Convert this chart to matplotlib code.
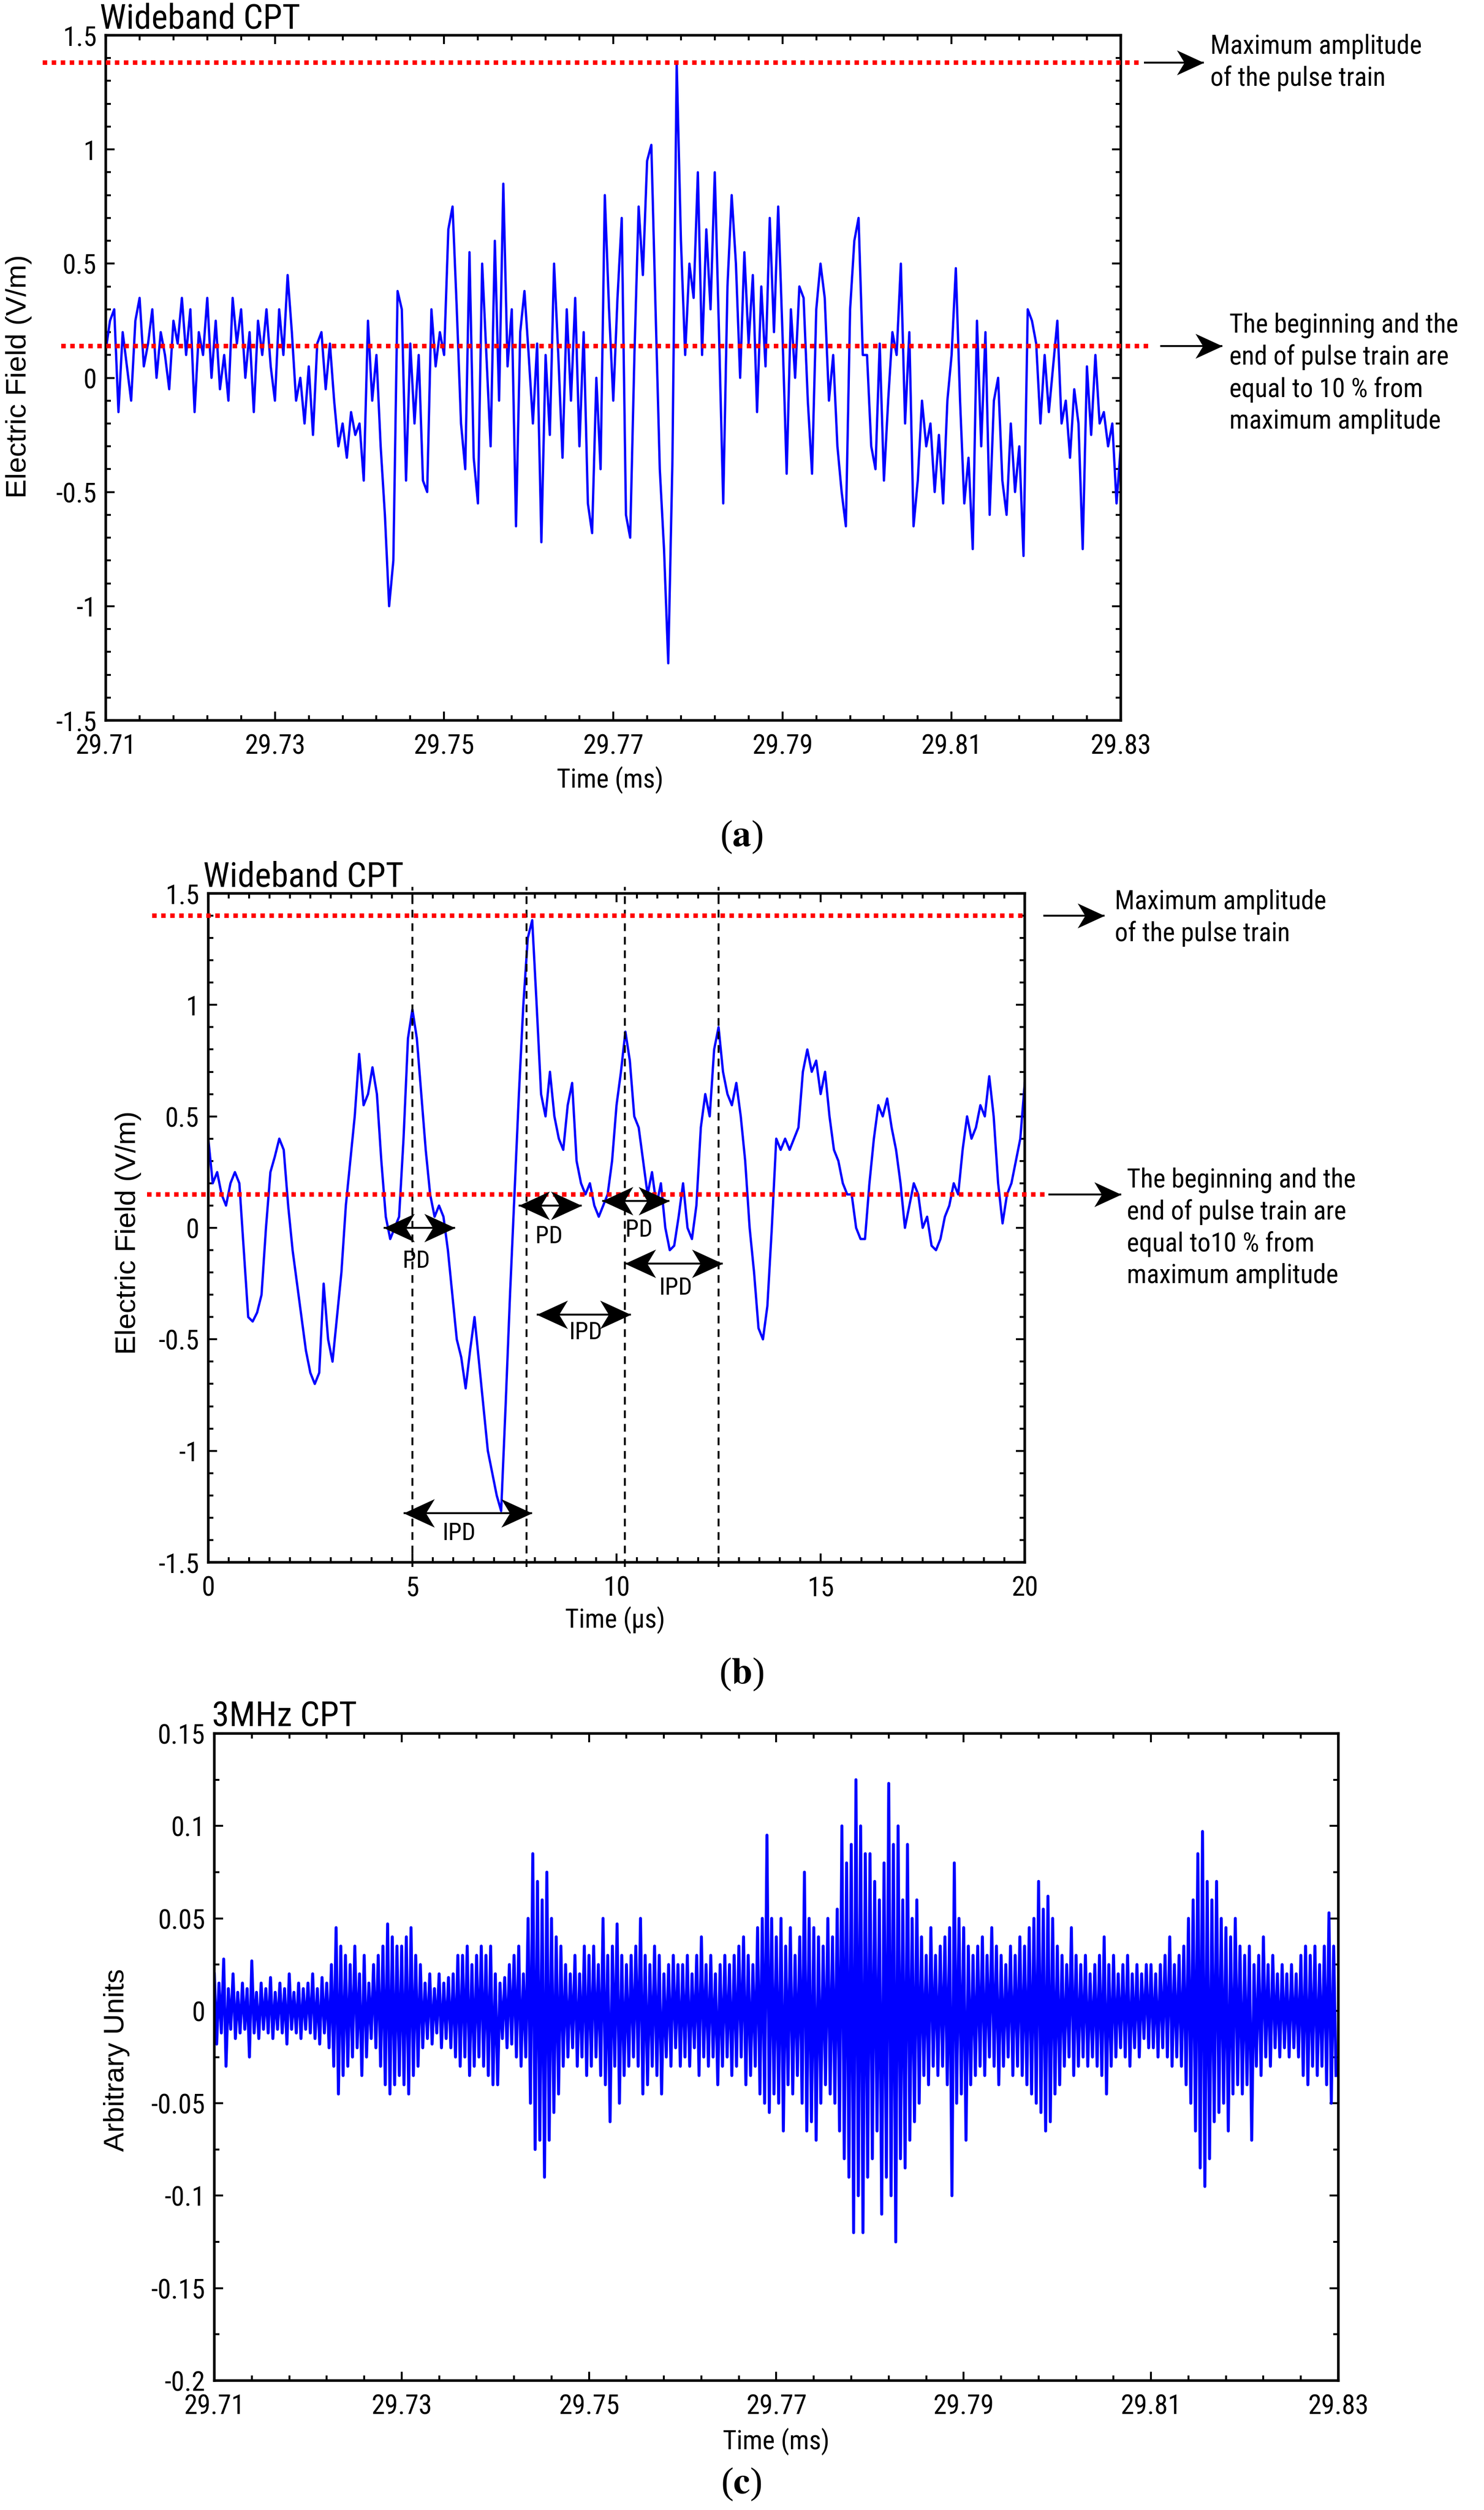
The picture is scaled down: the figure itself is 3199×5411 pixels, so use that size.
import numpy as np
import matplotlib
matplotlib.use("Agg")
import matplotlib.pyplot as plt
from matplotlib import font_manager
from matplotlib.path import Path
from matplotlib.ticker import FixedLocator, AutoMinorLocator, FuncFormatter


def first_font(names):
    for n in names:
        try:
            font_manager.findfont(n, fallback_to_default=False)
            return n
        except Exception:
            pass
    return "DejaVu Sans"


NARROW = [first_font(["Liberation Sans Narrow", "Roboto Condensed", "Liberation Sans"]), "DejaVu Sans"]
WIDE = ["Liberation Sans", "DejaVu Sans"]
SERIF = ["Liberation Serif", "DejaVu Serif"]
plt.rcParams["font.family"] = NARROW
plt.rcParams["axes.unicode_minus"] = False
plt.rcParams["mathtext.fontset"] = "stix"

# ---------- Data ----------
# (a) wideband field, 29.71-29.83 ms, one sample per 0.0005 ms
t0_a, dt_a = 29.71, 0.0005
field_a = [
    0.12, 0.25, 0.3, -0.15, 0.2, 0.05, -0.1, 0.25, 0.35, 0.05, 0.15, 0.3, 0.0, 0.2, 0.1, -0.05, 0.25, 0.15, 0.35, 0.1,
    0.3, -0.15, 0.2, 0.1, 0.35, 0.0, 0.25, -0.05, 0.1, -0.1, 0.35, 0.15, 0.3, 0.0, 0.2, -0.15, 0.25, 0.1, 0.3, 0.05,
    -0.1, 0.3, 0.1, 0.45, 0.2, -0.1, 0.0, -0.2, 0.05, -0.25, 0.15, 0.2, -0.05, 0.15, -0.1, -0.3, -0.2, -0.35, -0.15, -0.25,
    -0.2, -0.45, 0.25, -0.1, 0.1, -0.3, -0.6, -1.0, -0.8, 0.38, 0.3, -0.45, 0.15, -0.2, 0.1, -0.45, -0.5, 0.3, 0.05, 0.2,
    0.1, 0.65, 0.75, 0.3, -0.2, -0.4, 0.55, -0.35, -0.55, 0.5, 0.1, -0.3, 0.6, -0.1, 0.85, 0.05, 0.3, -0.65, 0.2, 0.38,
    0.1, -0.2, 0.15, -0.72, 0.1, -0.25, 0.5, 0.1, -0.35, 0.3, -0.1, 0.35, -0.3, 0.2, -0.55, -0.68, 0.0, -0.4, 0.8, 0.3,
    -0.1, 0.35, 0.7, -0.6, -0.7, 0.1, 0.75, 0.45, 0.95, 1.02, 0.3, -0.4, -0.75, -1.25, -0.35, 1.38, 0.6, 0.1, 0.5, 0.35,
    0.9, 0.1, 0.65, 0.3, 0.9, 0.2, -0.55, 0.4, 0.8, 0.5, 0.0, 0.55, 0.15, 0.45, -0.15, 0.4, 0.05, 0.7, 0.2, 0.75,
    0.2, -0.42, 0.3, 0.0, 0.4, 0.35, -0.1, -0.42, 0.3, 0.5, 0.35, -0.1, 0.1, -0.3, -0.5, -0.65, 0.3, 0.6, 0.7, 0.1,
    0.1, -0.3, -0.4, 0.15, -0.45, -0.1, 0.2, 0.1, 0.5, -0.2, 0.2, -0.65, -0.45, -0.1, -0.3, -0.2, -0.5, -0.25, -0.55, -0.1,
    0.1, 0.48, -0.1, -0.55, -0.35, -0.75, 0.25, -0.3, 0.2, -0.6, -0.1, 0.0, -0.45, -0.6, -0.2, -0.5, -0.3, -0.78, 0.3, 0.25,
    0.15, -0.2, 0.1, -0.15, 0.05, 0.25, -0.2, -0.1, -0.35, -0.05, -0.2, -0.75, 0.05, -0.25, 0.1, -0.2, -0.15, -0.3, -0.2, -0.55,
    -0.3,
]

# (b) wideband field zoom, 0-20 us
field_b = [
    0.4, 0.2, 0.25, 0.15, 0.1, 0.2, 0.25, 0.2, -0.1, -0.4, -0.42, -0.38, -0.3, 0.0, 0.25, 0.32, 0.4, 0.35, 0.1, -0.1,
    -0.25, -0.4, -0.55, -0.65, -0.7, -0.65, -0.25, -0.5, -0.6, -0.4, -0.2, 0.1, 0.3, 0.5, 0.78, 0.55, 0.6, 0.72, 0.6, 0.3,
    0.05, -0.05, 0.0, 0.05, 0.4, 0.85, 0.98, 0.85, 0.6, 0.35, 0.15, 0.05, 0.1, 0.05, -0.1, -0.3, -0.5, -0.58, -0.72, -0.55,
    -0.4, -0.6, -0.8, -1.0, -1.1, -1.2, -1.27, -0.8, -0.3, 0.15, 0.6, 1.0, 1.3, 1.38, 1.0, 0.6, 0.5, 0.7, 0.5, 0.4,
    0.35, 0.55, 0.65, 0.3, 0.2, 0.15, 0.2, 0.1, 0.05, 0.1, 0.15, 0.3, 0.55, 0.7, 0.88, 0.75, 0.5, 0.45, 0.3, 0.15,
    0.25, 0.1, 0.2, 0.0, -0.1, -0.08, 0.05, 0.2, 0.0, -0.05, 0.1, 0.45, 0.6, 0.5, 0.8, 0.9, 0.7, 0.6, 0.55, 0.65,
    0.5, 0.3, 0.0, -0.2, -0.45, -0.5, -0.35, 0.0, 0.4, 0.35, 0.4, 0.35, 0.4, 0.45, 0.7, 0.8, 0.7, 0.75, 0.6, 0.7,
    0.5, 0.35, 0.3, 0.2, 0.15, 0.15, 0.0, -0.05, -0.05, 0.2, 0.4, 0.55, 0.5, 0.58, 0.45, 0.35, 0.2, 0.0, 0.1, 0.2,
    0.15, 0.0, 0.05, -0.08, -0.1, -0.05, 0.05, 0.1, 0.2, 0.15, 0.35, 0.5, 0.4, 0.45, 0.55, 0.5, 0.68, 0.5, 0.2, 0.02,
    0.15, 0.2, 0.3, 0.4, 0.65,
]

# (c) 3 MHz signal: upper / lower swing per 0.0005 ms step
t0_c, dt_c = 29.71, 0.0005
upper_c = [
    0.02, 0.015, 0.028, 0.012, 0.02, 0.01, 0.015, 0.012, 0.027, 0.01, 0.015, 0.012, 0.018, 0.01, 0.015, 0.012, 0.02, 0.01, 0.015, 0.012,
    0.015, 0.02, 0.012, 0.018, 0.015, 0.025, 0.045, 0.035, 0.03, 0.025, 0.035, 0.02, 0.03, 0.015, 0.025, 0.03, 0.035, 0.047, 0.04, 0.035,
    0.035, 0.04, 0.045, 0.03, 0.025, 0.015, 0.02, 0.012, 0.02, 0.015, 0.018, 0.02, 0.03, 0.03, 0.035, 0.025, 0.03, 0.035, 0.03, 0.035,
    0.02, 0.015, 0.018, 0.025, 0.03, 0.035, 0.02, 0.05, 0.085, 0.07, 0.06, 0.075, 0.05, 0.04, 0.035, 0.025, 0.02, 0.03, 0.02, 0.035,
    0.03, 0.035, 0.025, 0.05, 0.03, 0.035, 0.047, 0.03, 0.025, 0.03, 0.035, 0.05, 0.03, 0.025, 0.035, 0.03, 0.02, 0.025, 0.03, 0.025,
    0.025, 0.03, 0.02, 0.03, 0.04, 0.025, 0.03, 0.02, 0.025, 0.03, 0.025, 0.03, 0.035, 0.04, 0.03, 0.025, 0.045, 0.05, 0.095, 0.05,
    0.04, 0.05, 0.035, 0.045, 0.03, 0.04, 0.075, 0.05, 0.045, 0.04, 0.035, 0.05, 0.04, 0.055, 0.1, 0.08, 0.09, 0.125, 0.1, 0.085,
    0.085, 0.07, 0.06, 0.08, 0.123, 0.09, 0.1, 0.06, 0.09, 0.05, 0.06, 0.04, 0.03, 0.045, 0.03, 0.035, 0.04, 0.045, 0.08, 0.05,
    0.045, 0.035, 0.03, 0.035, 0.04, 0.03, 0.045, 0.035, 0.03, 0.025, 0.035, 0.03, 0.04, 0.035, 0.045, 0.05, 0.07, 0.055, 0.062, 0.05,
    0.035, 0.03, 0.025, 0.045, 0.03, 0.025, 0.03, 0.02, 0.025, 0.03, 0.04, 0.025, 0.03, 0.02, 0.025, 0.03, 0.02, 0.025, 0.02, 0.025,
    0.025, 0.02, 0.025, 0.03, 0.04, 0.025, 0.03, 0.035, 0.05, 0.06, 0.085, 0.097, 0.07, 0.06, 0.07, 0.05, 0.045, 0.04, 0.05, 0.035,
    0.03, 0.035, 0.025, 0.03, 0.04, 0.025, 0.03, 0.02, 0.025, 0.02, 0.025, 0.02, 0.03, 0.035, 0.03, 0.035, 0.025, 0.035, 0.053, 0.035,
]
lower_c = [
    -0.018, -0.012, -0.03, -0.01, -0.015, -0.012, -0.01, -0.025, -0.012, -0.015, -0.01, -0.012, -0.015, -0.01, -0.012, -0.018, -0.01, -0.012, -0.015, -0.01,
    -0.012, -0.015, -0.018, -0.012, -0.02, -0.03, -0.045, -0.035, -0.03, -0.025, -0.02, -0.035, -0.025, -0.015, -0.02, -0.03, -0.04, -0.045, -0.04, -0.035,
    -0.04, -0.045, -0.035, -0.03, -0.02, -0.015, -0.018, -0.012, -0.02, -0.015, -0.02, -0.025, -0.03, -0.025, -0.035, -0.03, -0.025, -0.03, -0.035, -0.04,
    -0.04, -0.015, -0.02, -0.018, -0.025, -0.03, -0.025, -0.05, -0.075, -0.07, -0.09, -0.07, -0.055, -0.045, -0.03, -0.025, -0.02, -0.03, -0.025, -0.035,
    -0.03, -0.025, -0.035, -0.04, -0.06, -0.03, -0.05, -0.035, -0.03, -0.025, -0.03, -0.045, -0.04, -0.03, -0.035, -0.045, -0.025, -0.03, -0.02, -0.03,
    -0.025, -0.03, -0.02, -0.035, -0.025, -0.03, -0.025, -0.04, -0.03, -0.025, -0.035, -0.03, -0.025, -0.04, -0.035, -0.03, -0.045, -0.05, -0.055, -0.045,
    -0.05, -0.065, -0.04, -0.045, -0.035, -0.05, -0.065, -0.06, -0.07, -0.05, -0.04, -0.045, -0.05, -0.065, -0.08, -0.09, -0.12, -0.1, -0.12, -0.09,
    -0.08, -0.065, -0.11, -0.09, -0.1, -0.125, -0.08, -0.085, -0.07, -0.06, -0.05, -0.035, -0.04, -0.03, -0.035, -0.03, -0.04, -0.1, -0.05, -0.045,
    -0.07, -0.04, -0.035, -0.03, -0.035, -0.025, -0.03, -0.04, -0.03, -0.025, -0.035, -0.03, -0.035, -0.04, -0.045, -0.05, -0.055, -0.065, -0.06, -0.045,
    -0.04, -0.03, -0.025, -0.035, -0.03, -0.025, -0.03, -0.025, -0.03, -0.035, -0.045, -0.03, -0.025, -0.02, -0.025, -0.03, -0.02, -0.025, -0.015, -0.02,
    -0.02, -0.025, -0.02, -0.025, -0.03, -0.025, -0.03, -0.04, -0.05, -0.065, -0.085, -0.095, -0.08, -0.06, -0.055, -0.05, -0.065, -0.045, -0.04, -0.045,
    -0.04, -0.07, -0.03, -0.035, -0.025, -0.03, -0.02, -0.025, -0.02, -0.025, -0.02, -0.025, -0.035, -0.04, -0.03, -0.035, -0.03, -0.04, -0.05, -0.035,
]

# reference levels and pulse markers
max_a, level_a = 1.38, 0.14
max_b, level_b = 1.40, 0.15
pulse_marks_b = [5.0, 7.8, 10.2, 12.5]
pd_spans = [(4.3, 6.05, 0.0), (7.6, 9.15, 0.1), (9.65, 11.3, 0.12)]
pd_labels = [(5.1, -0.15), (8.35, -0.04), (10.55, -0.01)]
ipd_spans = [(4.78, 7.93, -1.28), (8.05, 10.35, -0.39), (10.2, 12.6, -0.16)]
ipd_labels = [(6.15, -1.37), (9.25, -0.47), (11.45, -0.27)]

time_ticks = [29.71, 29.73, 29.75, 29.77, 29.79, 29.81, 29.83]
field_ticks = [-1.5, -1, -0.5, 0, 0.5, 1, 1.5]
us_ticks = [0, 5, 10, 15, 20]
au_ticks = [-0.2, -0.15, -0.1, -0.05, 0, 0.05, 0.1, 0.15]

TXT_MAX = "Maximum amplitude\nof the pulse train"
TXT_LVL_A = "The beginning and the\nend of pulse train are\nequal to 10 % from\nmaximum amplitude"
TXT_LVL_B = "The beginning and the\nend of pulse train are\nequal to10 % from\nmaximum amplitude"

# ---------- Figure ----------
W, H = 3199, 5411
fig = plt.figure(figsize=(W / 100, H / 100), dpi=100)
renderer = fig.canvas.get_renderer()


def fit_size(s, target_px, family=None):
    # font size that gives a string the width it has in the reference
    t = fig.text(0, 0, s, fontsize=20, family=family or NARROW)
    w = t.get_window_extent(renderer).width
    t.remove()
    return 20 * target_px / w


TICK_FS = fit_size("29.71", 131)
TITLE_FS = fit_size("Wideband CPT", 431)
XLAB_FS = fit_size("Time (ms)", 231)
NOTE_FS = fit_size("Maximum amplitude", 455)
PD_FS = fit_size("IPD", 72)
YLAB_FS = fit_size("Electric Field (V/m)", 525, WIDE)
BLUE = "#0000ff"

# barbed arrow head, tip at the origin, pointing right
HEAD_R = Path([(0, 0), (-1.0, 0.46), (-0.72, 0.0), (-1.0, -0.46), (0, 0)],
              [Path.MOVETO, Path.LINETO, Path.LINETO, Path.LINETO, Path.CLOSEPOLY])
HEAD_L = Path([(0, 0), (1.0, 0.46), (0.72, 0.0), (1.0, -0.46), (0, 0)],
              [Path.MOVETO, Path.LINETO, Path.LINETO, Path.LINETO, Path.CLOSEPOLY])


def style_axes(ax, xticks, yticks, xminor, yminor):
    for s in ax.spines.values():
        s.set_linewidth(4.0)
    ax.xaxis.set_major_locator(FixedLocator(xticks))
    ax.yaxis.set_major_locator(FixedLocator(yticks))
    ax.xaxis.set_minor_locator(AutoMinorLocator(xminor))
    ax.yaxis.set_minor_locator(AutoMinorLocator(yminor))
    fmt = FuncFormatter(lambda v, p: f"{v:g}")
    ax.xaxis.set_major_formatter(fmt)
    ax.yaxis.set_major_formatter(fmt)
    ax.tick_params(which="both", direction="in", top=True, right=True,
                   labelsize=TICK_FS, width=3.0)
    ax.tick_params(which="major", length=14)
    ax.tick_params(axis="x", which="major", pad=20)
    ax.tick_params(axis="y", which="major", pad=14)
    ax.tick_params(which="minor", length=8)


def arrow(ax, x0, x1, y, tr=None, both=False, ms=80):
    tr = tr or ax.transData
    ax.plot([x0, x1], [y, y], color="black", lw=3.0, transform=tr,
            clip_on=False, zorder=4, solid_capstyle="butt")
    ax.plot([x1], [y], marker=HEAD_R, ms=ms, color="black", mew=0,
            transform=tr, clip_on=False, zorder=4)
    if both:
        ax.plot([x0], [y], marker=HEAD_L, ms=ms, color="black", mew=0,
                transform=tr, clip_on=False, zorder=4)


def side_note(ax, y, x0, x1, xt, text, ty):
    tr = ax.get_yaxis_transform()
    arrow(ax, x0, x1, y, tr=tr, ms=84)
    ax.text(xt, ty, text, transform=tr, ha="left", va="center",
            fontsize=NOTE_FS, linespacing=1.3)


def red_level(ax, y, x0, x1):
    ax.plot([x0, x1], [y, y], transform=ax.get_yaxis_transform(), clip_on=False,
            color="red", lw=7, ls=(0, (1, 1)), zorder=3)


# ----- (a) -----
ax_a = fig.add_axes([228 / W, 1 - 1553 / H, 2188 / W, 1477 / H])
t_a = t0_a + dt_a * np.arange(len(field_a))
ax_a.plot(t_a, field_a, color=BLUE, lw=3.6)
ax_a.set_xlim(29.71, 29.83)
ax_a.set_ylim(-1.5, 1.5)
style_axes(ax_a, time_ticks, field_ticks, 5, 5)
red_level(ax_a, max_a, -0.062, 1.021)
red_level(ax_a, level_a, -0.044, 1.031)
side_note(ax_a, max_a, 1.023, 1.082, 1.088, TXT_MAX, 1.38)
side_note(ax_a, level_a, 1.039, 1.10, 1.107, TXT_LVL_A, 0.02)
ax_a.text(-0.006, 1.0, "Wideband CPT", transform=ax_a.transAxes, ha="left",
          va="bottom", fontsize=TITLE_FS)
ax_a.text(0.497, -0.087, "Time (ms)", transform=ax_a.transAxes, ha="center",
          va="center", fontsize=XLAB_FS)
ax_a.text(-0.0855, 0.502, "Electric Field (V/m)", transform=ax_a.transAxes,
          rotation=90, ha="center", va="center", fontsize=YLAB_FS, family=WIDE)

# ----- (b) -----
ax_b = fig.add_axes([449 / W, 1 - 3368 / H, 1760 / W, 1442 / H])
t_b = np.linspace(0, 20, len(field_b))
ax_b.plot(t_b, field_b, color=BLUE, lw=3.6)
ax_b.set_xlim(0, 20)
ax_b.set_ylim(-1.5, 1.5)
style_axes(ax_b, us_ticks, field_ticks, 10, 5)
for xm in pulse_marks_b:
    ax_b.plot([xm, xm], [-1.52, 1.53], color="black", lw=3.0,
              ls=(0, (4, 3)), clip_on=False, zorder=2)
red_level(ax_b, max_b, -0.069, 1.0)
red_level(ax_b, level_b, -0.075, 1.029)
side_note(ax_b, max_b, 1.023, 1.098, 1.11, TXT_MAX, 1.39)
side_note(ax_b, level_b, 1.029, 1.118, 1.125, TXT_LVL_B, 0.0)
for (xa, xb, yy) in pd_spans + ipd_spans:
    arrow(ax_b, xa, xb, yy, both=True, ms=96)
for (xl, yl) in pd_labels:
    ax_b.text(xl, yl, "PD", ha="center", va="center", fontsize=PD_FS)
for (xl, yl) in ipd_labels:
    ax_b.text(xl, yl, "IPD", ha="center", va="center", fontsize=PD_FS)
ax_b.text(-0.006, 1.0, "Wideband CPT", transform=ax_b.transAxes, ha="left",
          va="bottom", fontsize=TITLE_FS)
ax_b.text(0.498, -0.086, "Time (\u00b5s)", transform=ax_b.transAxes, ha="center",
          va="center", fontsize=XLAB_FS)
ax_b.text(-0.098, 0.493, "Electric Field (V/m)", transform=ax_b.transAxes,
          rotation=90, ha="center", va="center", fontsize=YLAB_FS, family=WIDE)

# ----- (c) -----
ax_c = fig.add_axes([462 / W, 1 - 5132 / H, 2423 / W, 1395 / H])
sig_c = np.ravel(np.column_stack([upper_c, lower_c]))
t_c = t0_c + (dt_c / 2) * np.arange(len(sig_c))
ax_c.plot(t_c, sig_c, color=BLUE, lw=4.6)
ax_c.set_xlim(29.71, 29.83)
ax_c.set_ylim(-0.2, 0.15)
style_axes(ax_c, time_ticks, au_ticks, 5, 2)
ax_c.text(-0.002, 1.0, "3MHz CPT", transform=ax_c.transAxes, ha="left",
          va="bottom", fontsize=TITLE_FS)
ax_c.text(0.5, -0.094, "Time (ms)", transform=ax_c.transAxes, ha="center",
          va="center", fontsize=XLAB_FS)
ax_c.text(-0.087, 0.495, "Arbitrary Units", transform=ax_c.transAxes,
          rotation=90, ha="center", va="center", fontsize=YLAB_FS, family=WIDE)

# ----- panel letters -----
for lab, yc in [("a", 1805), ("b", 3610), ("c", 5356)]:
    fig.text(1598 / W, 1 - yc / H, r"($\mathbf{%s}$)" % lab, ha="center",
             va="center", fontsize=58, family=SERIF)

fig.savefig("out.png", dpi=100, facecolor="white")
